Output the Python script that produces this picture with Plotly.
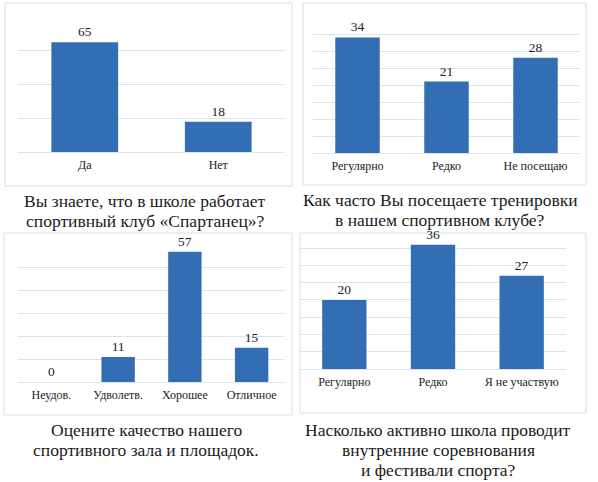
import plotly.graph_objects as go

# survey answers, one list per question
q1_labels = ["Да", "Нет"]
q1_values = [65, 18]

q2_labels = ["Регулярно", "Редко", "Не посещаю"]
q2_values = [34, 21, 28]

q3_labels = ["Неудов.", "Удволетв.", "Хорошее", "Отличное"]
q3_values = [0, 11, 57, 15]

q4_labels = ["Регулярно", "Редко", "Я не участвую"]
q4_values = [20, 36, 27]

titles = [
    ["Вы знаете, что в школе работает", "спортивный клуб «Спартанец»?"],
    ["Как часто Вы посещаете тренировки", "в нашем спортивном клубе?"],
    ["Оцените качество нашего", "спортивного зала и площадок."],
    ["Насколько активно школа проводит", "внутренние соревнования", "и фестивали спорта?"],
]

W, H = 598, 482
SERIF = "'Liberation Serif', 'DejaVu Serif', serif"
BAR = "#336eb4"
GRID = "#d9e4f3"


def px_x(v):
    return v / W


def px_y(v):
    return 1 - v / H


fig = go.Figure()

panels = [
    # labels, values, x-domain px, y-domain px (top, baseline), range, dtick
    (q1_labels, q1_values, (18, 285), (17, 152), [0, 80], 20),
    (q2_labels, q2_values, (313, 580), (17, 153), [0, 40], 5),
    (q3_labels, q3_values, (18, 285), (245, 382), [0, 60], 10),
    (q4_labels, q4_values, (300, 566), (244, 369), [0, 36.2], 5),
]

for i, (labels, values, xd, yd, yr, dt) in enumerate(panels, start=1):
    xa = "x" if i == 1 else f"x{i}"
    ya = "y" if i == 1 else f"y{i}"
    fig.add_trace(go.Bar(
        x=labels, y=values, xaxis=xa, yaxis=ya,
        width=0.5,
        marker=dict(color=BAR, line=dict(width=0)),
        text=[str(v) for v in values],
        textposition="outside",
        textfont=dict(family=SERIF, size=13.5, color="#222222"),
        cliponaxis=False,
        showlegend=False,
    ))
    fig.update_layout(**{
        ("xaxis" if i == 1 else f"xaxis{i}"): dict(
            domain=[px_x(xd[0]), px_x(xd[1])], anchor=ya,
            showgrid=False, zeroline=False, ticks="", ticklabelstandoff=4,
            tickfont=dict(family=SERIF, size=12, color="#222222"),
            showline=False,
        ),
        ("yaxis" if i == 1 else f"yaxis{i}"): dict(
            domain=[px_y(yd[1]), px_y(yd[0])], anchor=xa,
            range=yr, dtick=dt, showticklabels=False,
            showgrid=True, gridcolor=GRID, gridwidth=1,
            zeroline=True, zerolinecolor=GRID, zerolinewidth=1,
        ),
    })

# frames around each chart
boxes = [(5, 3, 292, 186), (303, 3, 586, 185), (4, 233, 292, 415), (300, 233, 586, 413)]
for x0, y0, x1, y1 in boxes:
    fig.add_shape(type="rect", xref="paper", yref="paper",
                  x0=px_x(x0), x1=px_x(x1), y0=px_y(y1), y1=px_y(y0),
                  line=dict(color="#d5dfea", width=1), layer="below")

# question captions under the charts, one annotation per line
caption_pos = [(145, 201), (440, 200), (146, 430), (438, 430)]
for (cx, cy), lines in zip(caption_pos, titles):
    for k, line in enumerate(lines):
        fig.add_annotation(text=line, xref="paper", yref="paper",
                           x=px_x(cx), y=px_y(cy + 20 * k),
                           xanchor="center", yanchor="middle",
                           showarrow=False,
                           font=dict(family=SERIF, size=17.5, color="#1a1a1a"))

fig.update_layout(
    width=W, height=H,
    margin=dict(l=0, r=0, t=0, b=0),
    paper_bgcolor="white", plot_bgcolor="white",
    bargap=0.5,
)

fig.write_html("out.html", config={"displayModeBar": False},
               post_script="document.body.style.margin='0';")
